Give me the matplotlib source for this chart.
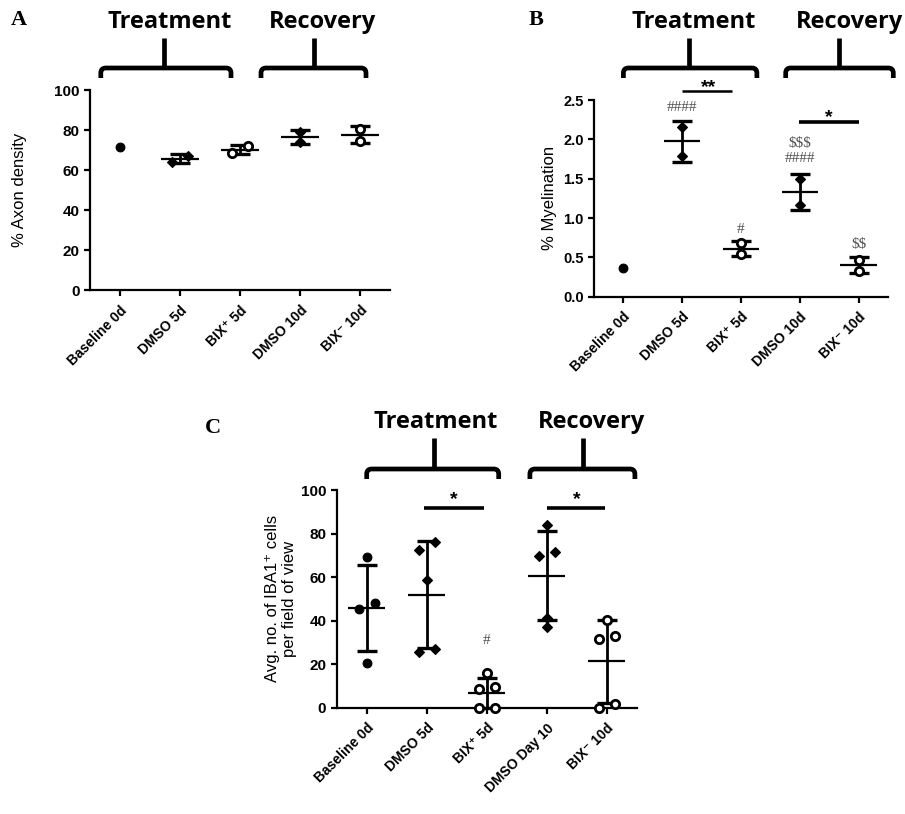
import numpy as np
import matplotlib
matplotlib.use("Agg")
import matplotlib.pyplot as plt
from matplotlib.path import Path
from matplotlib.patches import PathPatch

plt.rcParams["font.family"] = ["Liberation Sans", "DejaVu Sans"]

# ---------------- data ----------------
groups_ab = ["Baseline 0d", "DMSO 5d", "BIX\u207a 5d", "DMSO 10d", "BIX\u207b 10d"]
groups_c = ["Baseline 0d", "DMSO 5d", "BIX\u207a 5d", "DMSO Day 10", "BIX\u207b 10d"]

# % axon density
axon_baseline = [71.3]
axon_dmso_5d = [64.2, 67.2]
axon_bix_5d = [68.6, 71.8]
axon_dmso_10d = [73.9, 79.1]
axon_bix_10d = [74.7, 80.7]

# % myelination
myel_baseline = [0.36]
myel_dmso_5d = [1.79, 2.16]
myel_bix_5d = [0.54, 0.68]
myel_dmso_10d = [1.17, 1.49]
myel_bix_10d = [0.33, 0.47]

# IBA1+ cells per field of view
iba1_baseline = [69.4, 48.0, 45.2, 20.7]
iba1_dmso_5d = [76.3, 72.4, 58.7, 25.7, 26.8]
iba1_bix_5d = [15.8, 9.6, 8.4, 0.0, 0.0]
iba1_dmso_10d = [83.9, 69.7, 71.7, 41.1, 36.9]
iba1_bix_10d = [40.3, 31.4, 33.0, 0.0, 1.6]

W, H = 905, 814
fig = plt.figure(figsize=(W / 100, H / 100), dpi=100)


def px_axes(left, top, right, bottom):
    return fig.add_axes([left / W, 1 - bottom / H, (right - left) / W, (bottom - top) / H])


axA = px_axes(90, 90, 390, 290)
axB = px_axes(594, 100, 888, 296.7)
axC = px_axes(336.7, 490, 636.7, 707.7)

# overlay for brackets / panel letters, in pixel units (y downward)
deco = fig.add_axes([0, 0, 1, 1], zorder=-1)
deco.set_xlim(0, W)
deco.set_ylim(H, 0)
deco.axis("off")

markers = [("o", True), ("D", True), ("o", False), ("D", True), ("o", False)]


def style_axes(ax, ylim, yticks, fmt, categories, ylabel, label_x, ytick_size=11):
    ax.set_xlim(-0.5, 4.5)
    ax.set_ylim(*ylim)
    ax.set_yticks(yticks)
    ax.set_yticklabels([fmt.format(t) for t in yticks], fontweight="bold", fontsize=ytick_size)
    ax.set_xticks(range(len(categories)))
    ax.set_xticklabels(categories, fontweight="bold", fontsize=10,
                       rotation=45, ha="right", va="top", rotation_mode="anchor")
    for s in ("top", "right"):
        ax.spines[s].set_visible(False)
    for s in ("left", "bottom"):
        ax.spines[s].set_linewidth(1.6)
    ax.tick_params(width=1.6, length=4.5, direction="out", pad=3)
    ax.tick_params(axis="x", pad=5)
    ax.set_ylabel(ylabel, fontsize=12, ha="center", multialignment="center")
    ax.yaxis.set_label_coords(label_x, 0.5)
    ax.patch.set_alpha(0)


def swarm_offsets(ax, values, thresh_px=8.8, step_px=16):
    vals = np.asarray(values, float)
    ypx = ax.transData.transform(np.column_stack([np.zeros_like(vals), vals]))[:, 1]
    unit_px = ax.transData.transform((1, 0))[0] - ax.transData.transform((0, 0))[0]
    order = np.argsort(vals, kind="stable")
    clusters, cur = [], [order[0]]
    for prev, idx in zip(order[:-1], order[1:]):
        if abs(ypx[idx] - ypx[prev]) < thresh_px:
            cur.append(idx)
        else:
            clusters.append(cur)
            cur = [idx]
    clusters.append(cur)
    off = np.zeros_like(vals)
    for cl in clusters:
        n = len(cl)
        for k, idx in enumerate(cl):
            off[idx] = (k - (n - 1) / 2) * step_px / unit_px
    return off


def draw_groups(ax, series):
    for i, vals in enumerate(series):
        vals = np.asarray(vals, float)
        marker, filled = markers[i]
        if len(vals) > 1:
            m, sd = vals.mean(), vals.std(ddof=1)
            ax.errorbar(i, m, yerr=sd, fmt="none", ecolor="black", elinewidth=2.0,
                        capsize=7.5, capthick=2.4, zorder=2, clip_on=False)
            ax.hlines(m, i - 0.31, i + 0.31, color="black", lw=1.6, zorder=2)
        off = swarm_offsets(ax, vals)
        if filled:
            ax.plot(i + off, vals, ls="none", marker=marker, ms=6.3 if marker == "o" else 5,
                    mfc="black", mec="black", mew=0.8, zorder=3, clip_on=False)
        else:
            ax.plot(i + off, vals, ls="none", marker=marker, ms=6, mfc="white",
                    mec="black", mew=2.0, zorder=3, clip_on=False)


def bracket(ax, x0, x1, xs, xt, label, gap, depth=10, stem=30, text_up=46, r=5):
    top = H - ax.transAxes.transform((0, 1))[1]
    yh = top - gap
    px = lambda c: ax.transData.transform((c, 0))[0]
    a, b, s, t = px(x0), px(x1), px(xs), px(xt)
    verts = [(a, yh + depth), (a, yh + r), (a, yh), (a + r, yh),
             (b - r, yh), (b, yh), (b, yh + r), (b, yh + depth)]
    codes = [Path.MOVETO, Path.LINETO, Path.CURVE3, Path.CURVE3,
             Path.LINETO, Path.CURVE3, Path.CURVE3, Path.LINETO]
    deco.add_patch(PathPatch(Path(verts, codes), fill=False, lw=3.4, capstyle="butt",
                             joinstyle="round", color="black"))
    deco.plot([s, s], [yh, yh - stem], color="black", lw=3.4, solid_capstyle="butt")
    deco.text(t, yh - text_up, label, ha="center", va="center", fontsize=17,
              fontweight="bold", family="Open Sans", clip_on=False)


def sig_bar(ax, x0, x1, y, stars, xs, ys, lw=2.4):
    ax.plot([x0, x1], [y, y], color="black", lw=lw, clip_on=False, solid_capstyle="butt")
    ax.text(xs, ys, stars, ha="center", va="center", fontsize=14, fontweight="bold",
            clip_on=False)


def note(ax, x, y, s):
    ax.text(x, y, s, ha="center", va="center", fontsize=11, color="#505050",
            family="Liberation Serif", clip_on=False, parse_math=False)


# ---------------- panel A ----------------
style_axes(axA, (0, 100), [0, 20, 40, 60, 80, 100], "{:d}", groups_ab,
           "% Axon density", -0.21)
draw_groups(axA, [axon_baseline, axon_dmso_5d, axon_bix_5d, axon_dmso_10d, axon_bix_10d])
bracket(axA, -0.32, 1.85, 0.73, 0.82, "Treatment", gap=22)
bracket(axA, 2.35, 4.10, 3.23, 3.38, "Recovery", gap=22)

# ---------------- panel B ----------------
style_axes(axB, (0, 2.5), [0.0, 0.5, 1.0, 1.5, 2.0, 2.5], "{:.1f}", groups_ab,
           "% Myelination", -0.126, ytick_size=10.5)
draw_groups(axB, [myel_baseline, myel_dmso_5d, myel_bix_5d, myel_dmso_10d, myel_bix_10d])
bracket(axB, 0.0, 2.27, 1.12, 1.19, "Treatment", gap=32)
bracket(axB, 2.76, 4.59, 3.67, 3.84, "Recovery", gap=32)
sig_bar(axB, 1.0, 1.85, 2.62, "**", 1.45, 2.66, lw=1.8)
sig_bar(axB, 2.98, 4.0, 2.22, "*", 3.5, 2.28, lw=2.6)
note(axB, 1, 2.40, "####")
note(axB, 2, 0.85, "#")
note(axB, 3, 1.95, "$$$")
note(axB, 3, 1.76, "####")
note(axB, 4, 0.66, "$$")

# ---------------- panel C ----------------
style_axes(axC, (0, 100), [0, 20, 40, 60, 80, 100], "{:d}", groups_c,
           "Avg. no. of IBA1\u207a cells\nper field of view", -0.132)
draw_groups(axC, [iba1_baseline, iba1_dmso_5d, iba1_bix_5d, iba1_dmso_10d, iba1_bix_10d])
bracket(axC, 0.0, 2.2, 1.12, 1.15, "Treatment", gap=21, stem=31, text_up=47)
bracket(axC, 2.72, 4.47, 3.6, 3.75, "Recovery", gap=21, stem=31, text_up=47)
sig_bar(axC, 0.96, 1.95, 91.6, "*", 1.45, 95.5, lw=2.6)
sig_bar(axC, 3.0, 3.97, 91.6, "*", 3.5, 95.5, lw=2.6)
note(axC, 2, 31, "#")

# panel letters
for x, y, s in [(19, 20, "A"), (536, 20, "B"), (213, 428, "C")]:
    deco.text(x, y, s, ha="center", va="center", fontsize=16, fontweight="bold",
              family="Liberation Serif")

fig.savefig("out.png", dpi=100)
